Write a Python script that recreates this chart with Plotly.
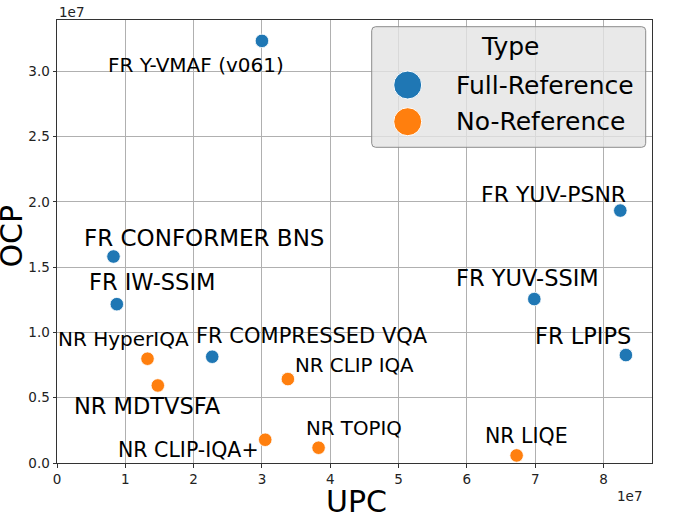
import plotly.graph_objects as go

# ---------------- data ----------------
labels = ["FR Y-VMAF (v061)", "FR CONFORMER BNS", "FR IW-SSIM", "NR HyperIQA",
          "FR COMPRESSED VQA", "NR MDTVSFA", "NR CLIP IQA", "NR CLIP-IQA+",
          "NR TOPIQ", "NR LIQE", "FR YUV-SSIM", "FR LPIPS", "FR YUV-PSNR"]
types = ["Full-Reference", "Full-Reference", "Full-Reference", "No-Reference",
         "Full-Reference", "No-Reference", "No-Reference", "No-Reference",
         "No-Reference", "No-Reference", "Full-Reference", "Full-Reference", "Full-Reference"]
upc = [3.000e7, 0.827e7, 0.876e7, 1.325e7, 2.272e7, 1.476e7, 3.380e7, 3.048e7,
       3.829e7, 6.728e7, 6.987e7, 8.328e7, 8.246e7]
ocp = [3.234e7, 1.582e7, 1.217e7, 0.799e7, 0.814e7, 0.594e7, 0.643e7, 0.178e7,
       0.117e7, 0.058e7, 1.256e7, 0.827e7, 1.934e7]

type_order = ["Full-Reference", "No-Reference"]
x_tick_vals = [0, 1e7, 2e7, 3e7, 4e7, 5e7, 6e7, 7e7, 8e7]
x_tick_text = ["0", "1", "2", "3", "4", "5", "6", "7", "8"]
y_tick_vals = [0, 0.5e7, 1.0e7, 1.5e7, 2.0e7, 2.5e7, 3.0e7]
y_tick_text = ["0.0", "0.5", "1.0", "1.5", "2.0", "2.5", "3.0"]

# ---------------- styles / positions ----------------
colors = {"Full-Reference": "#1f77b4", "No-Reference": "#ff7f0e"}
# label offsets in pixels (dx right, dy down) and font sizes
label_dx = [-66, 91, 35.5, -24, 100, -10, 67, -77, 35, 9.5, -6.7, -42.5, -67.3]
label_dy = [24, -18.7, -21.8, -20.2, -20.3, 20.6, -13.5, 10, -19.2, -19.9, -20.6, -18.6, -16.5]
label_fs = [20, 23, 22.5, 20, 21, 22.5, 19.8, 20.5, 19.8, 20.5, 22.5, 22.5, 22]

W, H = 673, 513
L, R, T, B = 57, 21, 20, 50
PW, PH = W - L - R, H - T - B
FONT = "DejaVu Sans"


def px(x):
    return (x - L) / PW


def py(y):
    return (H - B - y) / PH


fig = go.Figure()
for t in type_order:
    xs = [u for u, ty in zip(upc, types) if ty == t]
    ys = [o for o, ty in zip(ocp, types) if ty == t]
    fig.add_trace(go.Scatter(
        x=xs, y=ys, mode="markers", name=t, showlegend=False,
        marker=dict(size=13.5, color=colors[t], line=dict(color="white", width=0.8)),
    ))

annotations = []
for lab, x, y, dx, dy, fs in zip(labels, upc, ocp, label_dx, label_dy, label_fs):
    annotations.append(dict(
        x=x, y=y, xref="x", yref="y", text=lab, showarrow=False,
        xanchor="center", yanchor="middle", xshift=dx, yshift=-dy,
        font=dict(family=FONT, size=fs, color="black"),
    ))

# axis titles and offset texts
annotations += [
    dict(x=0.5, y=0, xref="paper", yref="paper", text="UPC", showarrow=False,
         xanchor="center", yanchor="middle", yshift=-38, xshift=2,
         font=dict(family=FONT, size=30, color="black")),
    dict(x=0, y=0.5, xref="paper", yref="paper", text="OCP", showarrow=False,
         textangle=-90, xanchor="center", yanchor="middle", xshift=-46, yshift=5,
         font=dict(family=FONT, size=30, color="black")),
    dict(x=px(57), y=py(12.5), xref="paper", yref="paper", text="1e7", showarrow=False,
         xanchor="left", yanchor="middle", font=dict(family=FONT, size=13.5, color="#222")),
    dict(x=px(644), y=py(496), xref="paper", yref="paper", text="1e7", showarrow=False,
         xanchor="right", yanchor="middle", font=dict(family=FONT, size=13.5, color="#222")),
]

# manual legend
lx0, ly0, lx1, ly1, rr = 371.7, 26.7, 645.7, 147.3, 4
path = (f"M {px(lx0 + rr)} {py(ly0)} L {px(lx1 - rr)} {py(ly0)} "
        f"Q {px(lx1)} {py(ly0)} {px(lx1)} {py(ly0 + rr)} "
        f"L {px(lx1)} {py(ly1 - rr)} Q {px(lx1)} {py(ly1)} {px(lx1 - rr)} {py(ly1)} "
        f"L {px(lx0 + rr)} {py(ly1)} Q {px(lx0)} {py(ly1)} {px(lx0)} {py(ly1 - rr)} "
        f"L {px(lx0)} {py(ly0 + rr)} Q {px(lx0)} {py(ly0)} {px(lx0 + rr)} {py(ly0)} Z")
shapes = [dict(type="path", path=path, xref="paper", yref="paper", layer="above",
               fillcolor="rgba(228,228,228,0.8)", line=dict(color="#8c8c8c", width=1))]
row_y = [85, 121.7]
for t, ry in zip(type_order, row_y):
    shapes.append(dict(type="circle", xref="paper", yref="paper", layer="above",
                       xsizemode="pixel", ysizemode="pixel",
                       xanchor=px(407.7), yanchor=py(ry),
                       x0=-14, x1=14, y0=-14, y1=14,
                       fillcolor=colors[t], line=dict(color="white", width=1)))
    annotations.append(dict(x=px(454), y=py(ry), xref="paper", yref="paper", text=t,
                            showarrow=False, xanchor="left", yanchor="middle",
                            font=dict(family=FONT, size=25, color="black")))
annotations.append(dict(x=px(510), y=py(47), xref="paper", yref="paper", text="Type",
                        showarrow=False, xanchor="center", yanchor="middle",
                        font=dict(family=FONT, size=25, color="black")))

axis_common = dict(
    showgrid=True, gridcolor="#b0b0b0", gridwidth=0.8, zeroline=False,
    showline=True, mirror=True, linecolor="#333", linewidth=1,
    ticks="outside", ticklen=3.5, tickcolor="#333", tickwidth=0.8,
    tickfont=dict(family=FONT, size=13.5, color="#222"),
)

fig.update_layout(
    width=W, height=H, autosize=False,
    margin=dict(l=L, r=R, t=T, b=B, pad=0),
    paper_bgcolor="white", plot_bgcolor="white",
    font=dict(family=FONT),
    xaxis=dict(range=[0, 8.71e7], tickvals=x_tick_vals, ticktext=x_tick_text, **axis_common),
    yaxis=dict(range=[0, 3.394e7], tickvals=y_tick_vals, ticktext=y_tick_text, **axis_common),
    annotations=annotations, shapes=shapes, showlegend=False,
)

fig.write_html("out.html", config={"displayModeBar": False},
               post_script="document.body.style.margin='0px';")
